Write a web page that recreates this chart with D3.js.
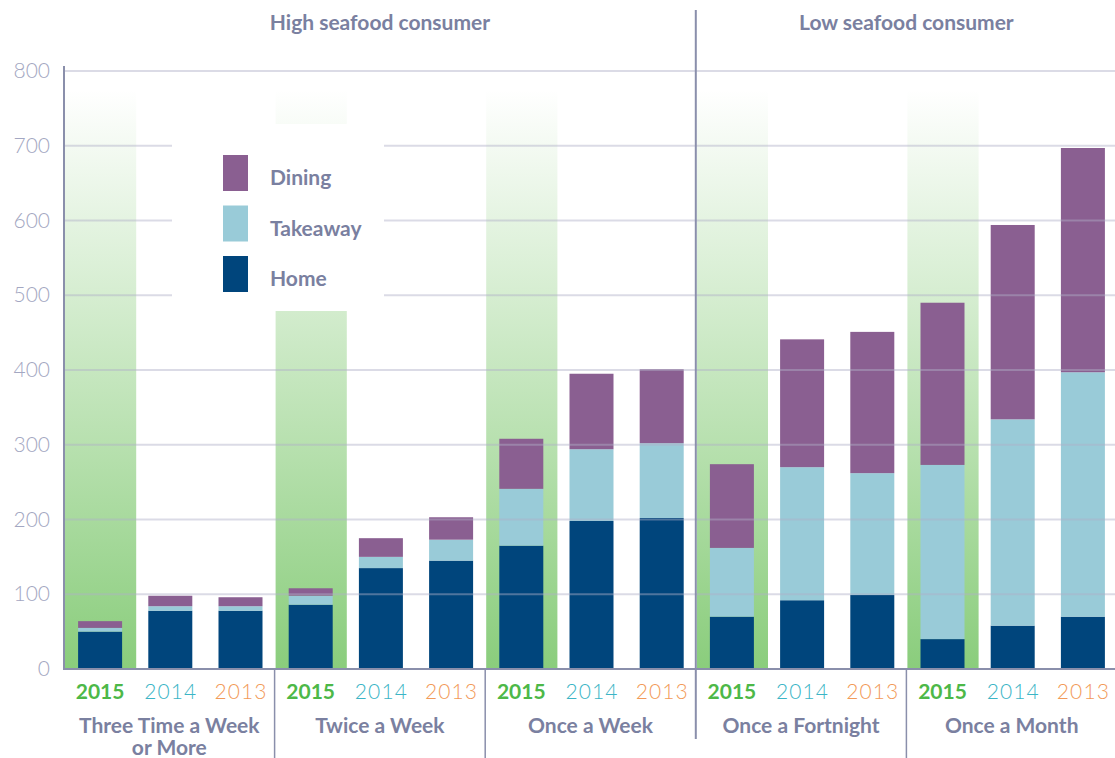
<!DOCTYPE html>
<html>
<head>
<meta charset="utf-8">
<script src="https://cdn.jsdelivr.net/npm/d3@7"></script>
<style>
  html, body { margin: 0; padding: 0; background: #fff; }
  svg { display: block; font-family: Lato, "Open Sans", sans-serif; }
</style>
</head>
<body>
<svg id="chart" width="1115" height="758"></svg>
<script>
// Seafood consumption frequency, split by where the seafood was eaten
const frequencies = ["Three Time a Week|or More", "Twice a Week", "Once a Week", "Once a Fortnight", "Once a Month"];
const years = ["2015", "2014", "2013"];
const channels = ["Home", "Takeaway", "Dining"];

// values per frequency, in year order 2015, 2014, 2013
const homeValues = [
  [50, 78, 78],
  [86, 135, 145],
  [165, 198, 202],
  [70, 92, 99],
  [40, 58, 70]
];
const takeawayValues = [
  [5, 6, 6],
  [12, 15, 28],
  [76, 96, 100],
  [92, 178, 163],
  [233, 276, 327]
];
const diningValues = [
  [9, 14, 12],
  [10, 25, 30],
  [67, 101, 99],
  [112, 171, 189],
  [217, 260, 300]
];
const yTicks = [0, 100, 200, 300, 400, 500, 600, 700, 800];
const segments = [
  { label: "High seafood consumer", from: 0, to: 2 },
  { label: "Low seafood consumer", from: 3, to: 4 }
];

const channelColor = { Home: "#00457c", Takeaway: "#99cbd8", Dining: "#8a5f91" };
const yearColor = { "2015": "#4db848", "2014": "#3bb5c6", "2013": "#f29a58" };
const textColor = "#7a80a0";
const axisColor = "#8a8fab";

const svg = d3.select("#chart");
const plotLeft = 64, plotRight = 1117, plotTop = 71, plotBottom = 669;

const x0 = d3.scaleBand().domain(frequencies).range([plotLeft, plotRight]);
const x1 = d3.scaleBand().domain(years).range([0, x0.bandwidth()]);
const y = d3.scaleLinear().domain([0, 800]).range([plotBottom, plotTop]);
const barW = 44;

// Build stacked rows
const rows = [];
frequencies.forEach((f, i) => {
  years.forEach((yr, j) => {
    rows.push({ freq: f, year: yr, Home: homeValues[i][j], Takeaway: takeawayValues[i][j], Dining: diningValues[i][j] });
  });
});
const stack = d3.stack().keys(channels)(rows);

// green highlight gradient behind 2015
const defs = svg.append("defs");
const grad = defs.append("linearGradient")
  .attr("id", "hl").attr("gradientUnits", "userSpaceOnUse")
  .attr("x1", 0).attr("x2", 0).attr("y1", y(775)).attr("y2", plotBottom);
grad.append("stop").attr("offset", "0%").attr("stop-color", "#8acd7c").attr("stop-opacity", 0);
grad.append("stop").attr("offset", "100%").attr("stop-color", "#8acd7c").attr("stop-opacity", 1);

svg.append("g").selectAll("rect")
  .data(frequencies)
  .join("rect")
  .attr("x", d => x0(d) + 1)
  .attr("y", y(795))
  .attr("width", x1.bandwidth() + 1)
  .attr("height", plotBottom - y(795))
  .attr("fill", "url(#hl)");

// stacked bars
svg.append("g").selectAll("g")
  .data(stack)
  .join("g")
  .attr("fill", d => channelColor[d.key])
  .selectAll("rect")
  .data(d => d)
  .join("rect")
  .attr("x", d => x0(d.data.freq) + x1(d.data.year) + (x1.bandwidth() - barW) / 2 + 1)
  .attr("y", d => y(d[1]))
  .attr("width", barW)
  .attr("height", d => y(d[0]) - y(d[1]));

// gridlines over the bars
svg.append("g").selectAll("line")
  .data(yTicks.filter(t => t > 0))
  .join("line")
  .attr("x1", plotLeft).attr("x2", 1115)
  .attr("y1", d => y(d)).attr("y2", d => y(d))
  .attr("stroke", "#b0b0c8").attr("stroke-opacity", 0.45).attr("stroke-width", 2);

// legend panel
svg.append("rect")
  .attr("x", 172).attr("y", 124).attr("width", 212).attr("height", 187)
  .attr("fill", "#fff");
const legendItems = ["Dining", "Takeaway", "Home"];
const lg = svg.append("g").selectAll("g")
  .data(legendItems)
  .join("g")
  .attr("transform", (d, i) => `translate(223, ${155 + i * 50.5})`);
lg.append("rect").attr("width", 25).attr("height", 36).attr("fill", d => channelColor[d]);
lg.append("text")
  .attr("x", 47).attr("y", 30)
  .attr("font-size", 21).attr("font-weight", 700)
  .attr("fill", textColor)
  .text(d => d);

// y axis
const yAxis = d3.axisLeft(y).tickValues(yTicks).tickSize(0).tickPadding(14);
const ya = svg.append("g").attr("transform", `translate(${plotLeft},0)`).call(yAxis);
ya.select(".domain").remove();
ya.selectAll("text")
  .attr("font-size", 21).attr("font-weight", 300)
  .attr("font-family", "Lato, sans-serif")
  .attr("fill", "#a3a7c2");
svg.append("line")
  .attr("x1", plotLeft).attr("x2", plotLeft).attr("y1", 66).attr("y2", plotBottom + 1)
  .attr("stroke", axisColor).attr("stroke-width", 2);
svg.append("line")
  .attr("x1", plotLeft).attr("x2", 1115).attr("y1", plotBottom).attr("y2", plotBottom)
  .attr("stroke", axisColor).attr("stroke-width", 2);

// year labels under bars
const yearAxis = svg.append("g");
frequencies.forEach(f => {
  yearAxis.append("g").selectAll("text")
    .data(years)
    .join("text")
    .attr("x", d => x0(f) + x1(d) + x1.bandwidth() / 2 + (d === "2015" ? 1 : 1.5))
    .attr("y", 699)
    .attr("text-anchor", "middle")
    .attr("font-size", 21)
    .attr("font-weight", d => d === "2015" ? 700 : 300)
    .attr("letter-spacing", d => d === "2015" ? 0 : 1.1)
    .attr("fill", d => yearColor[d])
    .text(d => d);
});

// frequency labels
svg.append("g").selectAll("text")
  .data(frequencies)
  .join("text")
  .attr("x", d => x0(d) + x0.bandwidth() / 2)
  .attr("y", 733)
  .attr("text-anchor", "middle")
  .attr("font-size", 21).attr("font-weight", 700)
  .attr("fill", textColor)
  .each(function (d) {
    const parts = d.split("|");
    const t = d3.select(this);
    parts.forEach((p, k) => {
      t.append("tspan").attr("x", x0(d) + x0.bandwidth() / 2).attr("dy", k === 0 ? 0 : 22).text(p);
    });
  });

// group dividers below the axis
svg.append("g").selectAll("line")
  .data(frequencies.slice(1).filter((d, i) => i + 1 !== 3))
  .join("line")
  .attr("x1", d => x0(d)).attr("x2", d => x0(d))
  .attr("y1", plotBottom).attr("y2", 758)
  .attr("stroke", axisColor).attr("stroke-width", 1.5);

// divider between consumer segments
svg.append("line")
  .attr("x1", x0(frequencies[3])).attr("x2", x0(frequencies[3]))
  .attr("y1", 10).attr("y2", 739)
  .attr("stroke", axisColor).attr("stroke-width", 2);

// segment titles
svg.append("g").selectAll("text")
  .data(segments)
  .join("text")
  .attr("x", d => (x0(frequencies[d.from]) + x0(frequencies[d.to]) + x0.bandwidth()) / 2)
  .attr("y", 30)
  .attr("text-anchor", "middle")
  .attr("font-size", 21).attr("font-weight", 700)
  .attr("fill", textColor)
  .text(d => d.label);
</script>
</body>
</html>
